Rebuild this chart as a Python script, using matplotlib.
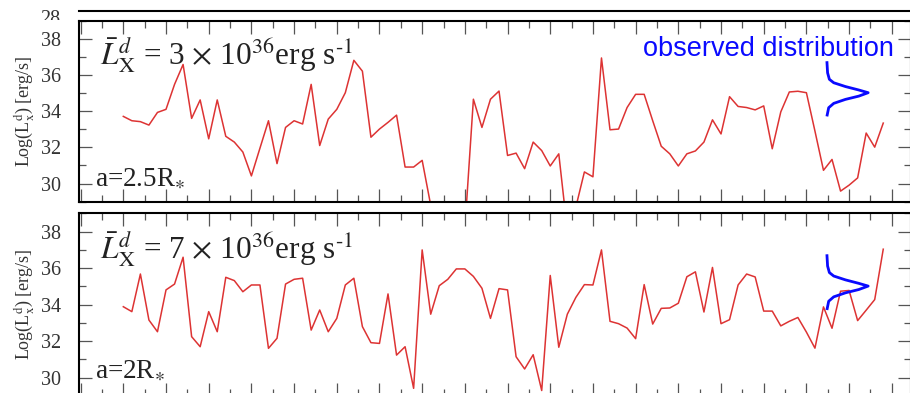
import matplotlib.pyplot as plt
from matplotlib.ticker import MultipleLocator

plt.rcParams['font.family'] = ['Liberation Serif', 'DejaVu Serif']
plt.rcParams['mathtext.fontset'] = 'stix'

# log disc X-ray luminosity per orbital step, one run per separation
lx_a25 = [33.71, 33.47, 33.42, 33.23, 33.93, 34.10, 35.48, 36.58, 33.60, 34.62,
          32.47, 34.62, 32.61, 32.29, 31.74, 30.42, 31.95, 33.47, 31.10, 33.10,
          33.47, 33.29, 35.48, 32.10, 33.56, 34.10, 35.02, 36.81, 36.21, 32.56,
          33.01, 33.38, 33.78, 30.91, 30.91, 31.28, 28.80, 27.00, 26.00, 26.50,
          27.50, 34.66, 33.10, 34.66, 35.11, 31.55, 31.68, 30.82, 32.29, 31.82,
          30.97, 31.64, 27.40, 28.70, 30.64, 30.37, 36.94, 32.97, 33.01, 34.20,
          34.93, 34.93, 33.47, 32.06, 31.64, 30.97, 31.64, 31.80, 32.29, 33.52,
          32.74, 34.80, 34.26, 34.20, 34.07, 34.29, 31.92, 33.96, 35.06, 35.10,
          35.02, 32.90, 30.73, 31.33, 29.58, 29.91, 30.31, 32.79, 32.01, 33.34]
lx_a2 = [33.89, 33.62, 35.68, 33.16, 32.52, 34.81, 35.13, 36.60, 32.25, 31.70,
         33.62, 32.52, 35.50, 35.32, 34.71, 35.08, 35.08, 31.61, 32.16, 35.13,
         35.39, 35.45, 32.61, 33.71, 32.52, 33.25, 35.08, 35.45, 32.80, 31.92,
         31.88, 34.59, 31.24, 31.70, 29.42, 37.00, 33.48, 35.04, 35.39, 35.96,
         35.96, 35.55, 34.90, 33.25, 34.88, 34.81, 31.15, 30.48, 31.26, 29.30,
         35.60, 31.67, 33.48, 34.40, 35.10, 35.08, 37.00, 33.09, 32.96, 32.72,
         32.14, 35.10, 32.94, 33.80, 33.82, 34.08, 35.53, 35.80, 33.60, 36.04,
         32.96, 33.18, 35.08, 35.68, 35.52, 33.65, 33.65, 32.84, 33.09, 33.30,
         32.50, 31.62, 33.88, 32.71, 34.74, 34.78, 33.13, 33.70, 34.28, 37.04]

# outline of the observed luminosity distribution (log L, profile height)
obs_logl = [36.76, 36.12, 35.76, 35.57, 35.36, 35.17, 35.02, 34.83, 34.65, 34.43, 34.19, 33.71]
obs_height = [0.0, 0.08, 0.29, 0.80, 2.17, 3.73, 4.83, 3.73, 2.17, 0.80, 0.21, 0.0]
obs_base = 82.4

runs = [lx_a25, lx_a2]
mean_lx = ['3', '7']
sep_labels = [r'a=2.5R$_{{\ast}}$', r'a=2R$_{{\ast}}$']
sep_y = [0.084, 0.098]
lum_y = [0.758, 0.754]
ylabel = r'Log(L$_{\rm x}^{\rm d}$) [erg/s]'

fig = plt.figure(figsize=(9.1, 3.93), dpi=100)
W, H = 910.0, 393.0
left, width = 79 / W, 832 / W
boxes = [[left, 1 - 201.6 / H, width, 180.9 / H],
         [left, 1 - 396.0 / H, width, 182.6 / H]]

# bottom edge of the panel above, mostly off the page
prev = fig.add_axes([left, 1 - 10.7 / H, width, 0.3])
prev.set_xticks([])
prev.set_yticks([])
for s in ['top', 'left', 'right']:
    prev.spines[s].set_visible(False)
prev.spines['bottom'].set_linewidth(1.5)
clip_ax = fig.add_axes([0, 1 - 20 / H, left, 10 / H])
clip_ax.axis('off')
clip_ax.text(0.64, 0.0, '28', transform=clip_ax.transAxes, ha='center', va='center',
             fontsize=14.5, color='#333333', clip_on=True)

for k, box in enumerate(boxes):
    ax = fig.add_axes(box)
    x = list(range(len(runs[k])))
    ax.plot(x, runs[k], color='#dd3333', lw=1.1)
    ax.plot([obs_base + h for h in obs_height], obs_logl, color='#0a0aff', lw=2.0,
            solid_capstyle='butt')
    ax.set_xlim(-5.19, 92.25)
    ax.set_ylim(29, 39)
    ax.xaxis.set_major_locator(MultipleLocator(5))
    ax.xaxis.set_minor_locator(MultipleLocator(2.5))
    ax.yaxis.set_minor_locator(MultipleLocator(1))
    ax.set_yticks([30, 32, 34, 36, 38])
    ax.tick_params(which='both', direction='in', top=True, right=True,
                   labelbottom=False, color='#555555', width=0.9)
    ax.tick_params(which='major', length=9.5)
    ax.tick_params(which='minor', length=5)
    ax.tick_params(axis='y', labelsize=14.5, labelcolor='#333333', pad=13)
    for s in ax.spines.values():
        s.set_linewidth(1.5)
    ax.set_ylabel(ylabel, fontsize=13, color='#333333', va='center', ha='center',
                  rotation_mode='default')
    ax.yaxis.set_label_coords((25 - 79) / 832, 0.5)
    ax.text(0.025, lum_y[k], r'$\bar{L}^{d}_{\rm X}$ = ' + mean_lx[k] +
            r' $\times$ 10$^{36}$erg s$^{\text{-}1}$',
            transform=ax.transAxes, fontsize=22.5, color='#222222')
    ax.text(0.019, sep_y[k], sep_labels[k], transform=ax.transAxes, fontsize=19.5,
            color='#222222')
    if k == 0:
        ax.text(0.829, 0.803, 'observed distribution', transform=ax.transAxes,
                ha='center', fontsize=19.5, color='#0a0aff', family='Liberation Sans')

fig.savefig('out.png', dpi=100)
